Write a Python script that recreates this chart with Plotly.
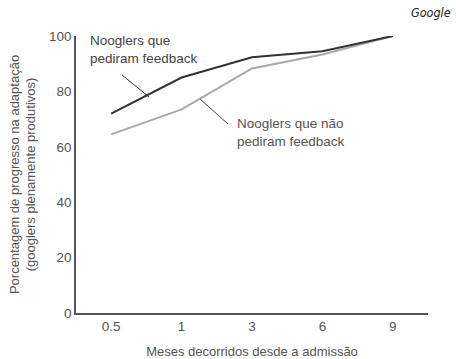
import plotly.graph_objects as go

months = ["0.5", "1", "3", "6", "9"]
asked_feedback = [72, 85, 92.3, 94.5, 100]
no_feedback = [64.5, 73.5, 88.3, 93.3, 100]
y_ticks = [0, 20, 40, 60, 80, 100]

font = "Liberation Sans"
W, H = 456, 359
L, R, T, B = 76, 28, 36, 46
pw, ph = W - L - R, H - T - B

def px(x):
    return (x - L) / pw

def py(y):
    return (H - B - y) / ph

fig = go.Figure()
fig.add_trace(go.Scatter(x=months, y=no_feedback, mode="lines",
                         line=dict(color="#a8a8a8", width=2), name="Nooglers que não pediram feedback"))
fig.add_trace(go.Scatter(x=months, y=asked_feedback, mode="lines",
                         line=dict(color="#333333", width=2), name="Nooglers que pediram feedback"))

fig.update_layout(
    width=W, height=H,
    margin=dict(l=L, r=R, t=T, b=B, autoexpand=False),
    paper_bgcolor="white", plot_bgcolor="white",
    showlegend=False,
    font=dict(family=font, color="#444444", size=12),
    xaxis=dict(type="category", range=[-0.5, 4.5], showgrid=False, zeroline=False,
               showline=True, linecolor="#555555", linewidth=1.5, ticks="",
               tickfont=dict(size=13.5, color="#555555"),
               title=dict(text="Meses decorridos desde a admissão", font=dict(size=13, color="#555555"), standoff=15)),
    yaxis=dict(range=[0, 100], tickvals=y_ticks, showgrid=False, zeroline=False,
               showline=True, linecolor="#555555", linewidth=1.5, ticks="",
               tickfont=dict(size=13.5, color="#555555"),
               title=dict(text="Porcentagem de progresso na adaptação<br>(googlers plenamente produtivos)",
                          font=dict(size=13, color="#555555"), standoff=10)),
)

fig.add_annotation(xref="paper", yref="paper", x=px(453), y=py(13), xanchor="right", yanchor="middle",
                   text="<i>Google</i>", showarrow=False,
                   font=dict(size=12.5, color="#222222", family="DejaVu Sans Condensed"))

# labels
fig.add_annotation(xref="paper", yref="paper", x=px(88), y=py(31), xanchor="left", yanchor="top",
                   text="Nooglers que<br>pediram feedback", showarrow=False, align="left",
                   font=dict(size=13.5, color="#444444"))
fig.add_annotation(xref="paper", yref="paper", x=px(235), y=py(114), xanchor="left", yanchor="top",
                   text="Nooglers que não<br>pediram feedback", showarrow=False, align="left",
                   font=dict(size=13.5, color="#555555"))
# leader lines
fig.add_shape(type="line", xref="paper", yref="paper",
              x0=px(122), y0=py(75), x1=px(149), y1=py(97),
              line=dict(color="#333333", width=1))
fig.add_shape(type="line", xref="paper", yref="paper",
              x0=px(200), y0=py(99), x1=px(228), y1=py(124),
              line=dict(color="#444444", width=1))

fig.write_html("out.html", config={"displayModeBar": False},
               post_script="document.body.style.margin='0';document.body.style.overflow='hidden';")
